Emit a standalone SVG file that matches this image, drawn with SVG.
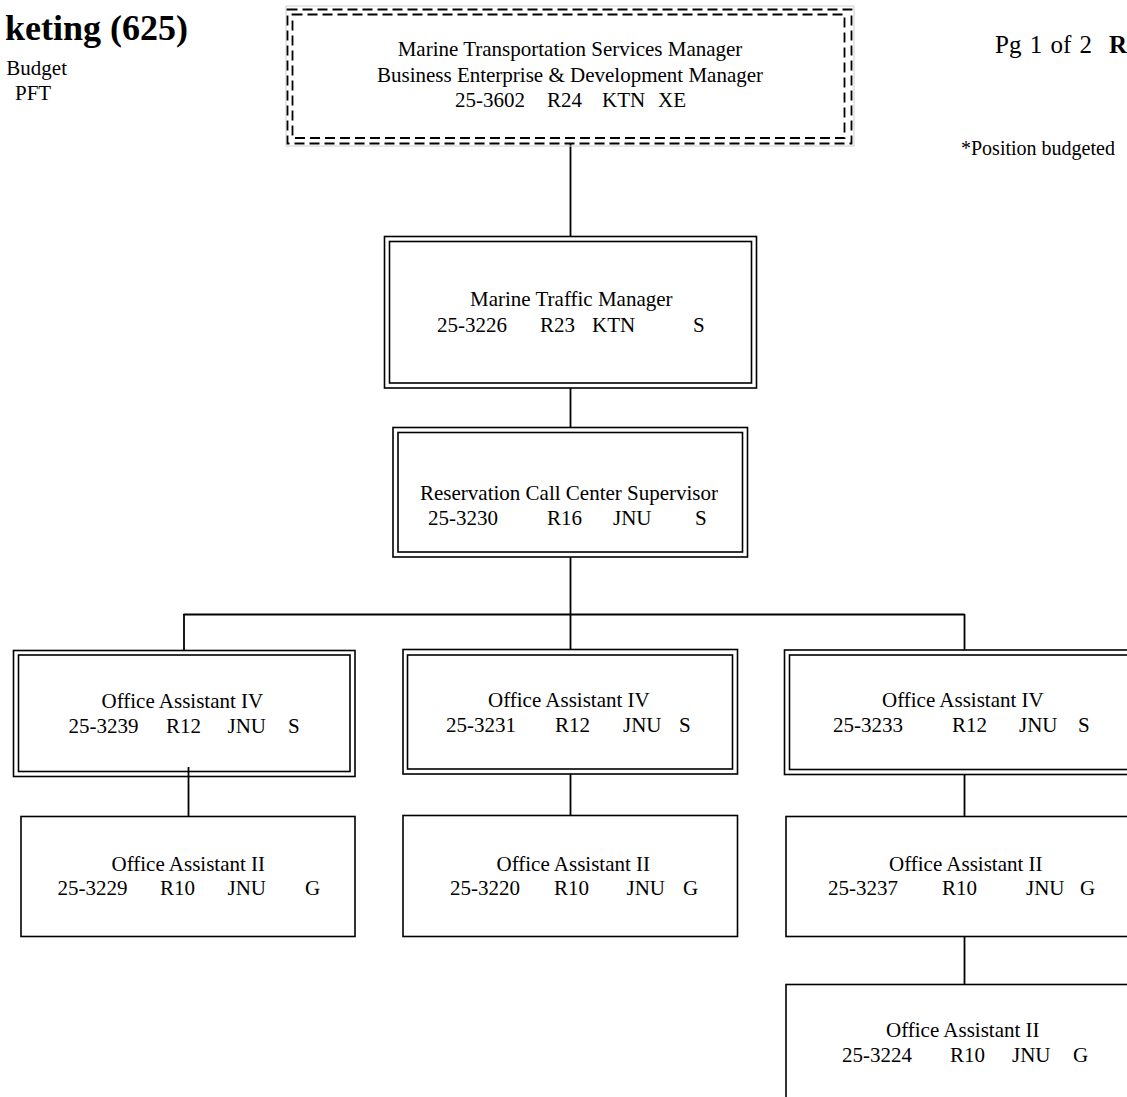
<svg xmlns="http://www.w3.org/2000/svg" width="1127" height="1097" viewBox="0 0 1127 1097">
<style>
  text { font-family: "Liberation Serif", "Times New Roman", serif; fill: #000; }
  .t { font-size: 21px; }
  .c { text-anchor: middle; }
  .hb { font-weight: bold; }
  .bx { fill: none; stroke: #000; stroke-width: 1.6; }
  .dash { fill: none; stroke: #000; stroke-width: 1.8; stroke-dasharray: 10 5; }
  .halo { fill: none; stroke: #cfcfcf; stroke-width: 1; }
  .conn line { stroke: #000; stroke-width: 1.8; }
</style>
<rect width="1127" height="1097" fill="#fff"/>

<!-- header texts -->
<g id="header">
  <text class="hb" x="188" y="40" font-size="36" text-anchor="end">keting (625)</text>
  <text x="67" y="75" font-size="21" text-anchor="end">Budget</text>
  <text x="15" y="100" font-size="21">PFT</text>
  <text x="995" y="53" font-size="25" word-spacing="2">Pg 1 of 2</text>
  <text class="hb" x="1109" y="53" font-size="25">R</text>
  <text x="961" y="155" font-size="20">*Position budgeted</text>
</g>

<!-- connectors -->
<g id="connectors" class="conn">
  <line x1="570.5" y1="143" x2="570.5" y2="236"/>
  <line x1="570.5" y1="388" x2="570.5" y2="427"/>
  <line x1="570.5" y1="557" x2="570.5" y2="650"/>
  <line x1="183.5" y1="614.5" x2="964.5" y2="614.5"/>
  <line x1="184" y1="614" x2="184" y2="650"/>
  <line x1="964.5" y1="614" x2="964.5" y2="650"/>
  <line x1="188.5" y1="767" x2="188.5" y2="816"/>
  <line x1="570.5" y1="774" x2="570.5" y2="815"/>
  <line x1="964.5" y1="774" x2="964.5" y2="816"/>
  <line x1="964.5" y1="937" x2="964.5" y2="984"/>
</g>

<!-- top node -->
<g id="n-3602">
  <rect class="halo" x="286" y="6" width="568" height="140"/>
  <rect class="dash" x="287.5" y="9.5" width="564" height="134"/>
  <rect class="dash" x="292.5" y="14.5" width="552" height="123.5"/>
  <text class="t c" x="570" y="56">Marine Transportation Services Manager</text>
  <text class="t c" x="570" y="81.5">Business Enterprise &amp; Development Manager</text>
  <text class="t" y="107"><tspan x="455">25-3602</tspan><tspan x="547">R24</tspan><tspan x="602">KTN</tspan><tspan x="658">XE</tspan></text>
</g>

<g id="n-3226">
  <rect class="bx" x="384.5" y="236.5" width="372" height="151.5"/>
  <rect class="bx" x="389.5" y="241.5" width="362" height="141.5"/>
  <text class="t" x="470" y="306">Marine Traffic Manager</text>
  <text class="t" y="332"><tspan x="437">25-3226</tspan><tspan x="540">R23</tspan><tspan x="592">KTN</tspan><tspan x="693">S</tspan></text>
</g>

<g id="n-3230">
  <rect class="bx" x="393" y="427.5" width="354.5" height="129.5"/>
  <rect class="bx" x="398" y="432.5" width="344.5" height="119.5"/>
  <text class="t" x="420" y="500">Reservation Call Center Supervisor</text>
  <text class="t" y="525"><tspan x="428">25-3230</tspan><tspan x="547">R16</tspan><tspan x="613">JNU</tspan><tspan x="695">S</tspan></text>
</g>

<g id="n-3239">
  <rect class="bx" x="13.5" y="650.5" width="341.5" height="126"/>
  <rect class="bx" x="18.5" y="655" width="331.5" height="116.5"/>
  <text class="t" x="101.5" y="708">Office Assistant IV</text>
  <text class="t" y="733"><tspan x="68.5">25-3239</tspan><tspan x="166">R12</tspan><tspan x="227.5">JNU</tspan><tspan x="288">S</tspan></text>
</g>

<g id="n-3231">
  <rect class="bx" x="403" y="649.5" width="334.5" height="124.5"/>
  <rect class="bx" x="407.5" y="655" width="325" height="114"/>
  <text class="t" x="488" y="707">Office Assistant IV</text>
  <text class="t" y="732"><tspan x="446">25-3231</tspan><tspan x="555">R12</tspan><tspan x="623">JNU</tspan><tspan x="679">S</tspan></text>
</g>

<g id="n-3233">
  <rect class="bx" x="784.5" y="650" width="360" height="124.5"/>
  <rect class="bx" x="789.5" y="655" width="350" height="114.5"/>
  <text class="t" x="882" y="707">Office Assistant IV</text>
  <text class="t" y="732"><tspan x="833">25-3233</tspan><tspan x="952">R12</tspan><tspan x="1019">JNU</tspan><tspan x="1078">S</tspan></text>
</g>

<g id="n-3229">
  <rect class="bx" x="21" y="816.5" width="334" height="120"/>
  <text class="t" x="111.5" y="871">Office Assistant II</text>
  <text class="t" y="895"><tspan x="57.5">25-3229</tspan><tspan x="160">R10</tspan><tspan x="227.5">JNU</tspan><tspan x="305">G</tspan></text>
</g>

<g id="n-3220">
  <rect class="bx" x="403" y="815.5" width="334.5" height="121"/>
  <text class="t" x="496.5" y="871">Office Assistant II</text>
  <text class="t" y="895"><tspan x="450">25-3220</tspan><tspan x="554">R10</tspan><tspan x="626.5">JNU</tspan><tspan x="683">G</tspan></text>
</g>

<g id="n-3237">
  <rect class="bx" x="786" y="816.5" width="360" height="120"/>
  <text class="t" x="889" y="871">Office Assistant II</text>
  <text class="t" y="895"><tspan x="828">25-3237</tspan><tspan x="942">R10</tspan><tspan x="1026">JNU</tspan><tspan x="1080">G</tspan></text>
</g>

<g id="n-3224">
  <rect class="bx" x="786" y="984.5" width="360" height="130"/>
  <text class="t" x="886" y="1037">Office Assistant II</text>
  <text class="t" y="1062"><tspan x="842">25-3224</tspan><tspan x="950">R10</tspan><tspan x="1012">JNU</tspan><tspan x="1073">G</tspan></text>
</g>
</svg>
